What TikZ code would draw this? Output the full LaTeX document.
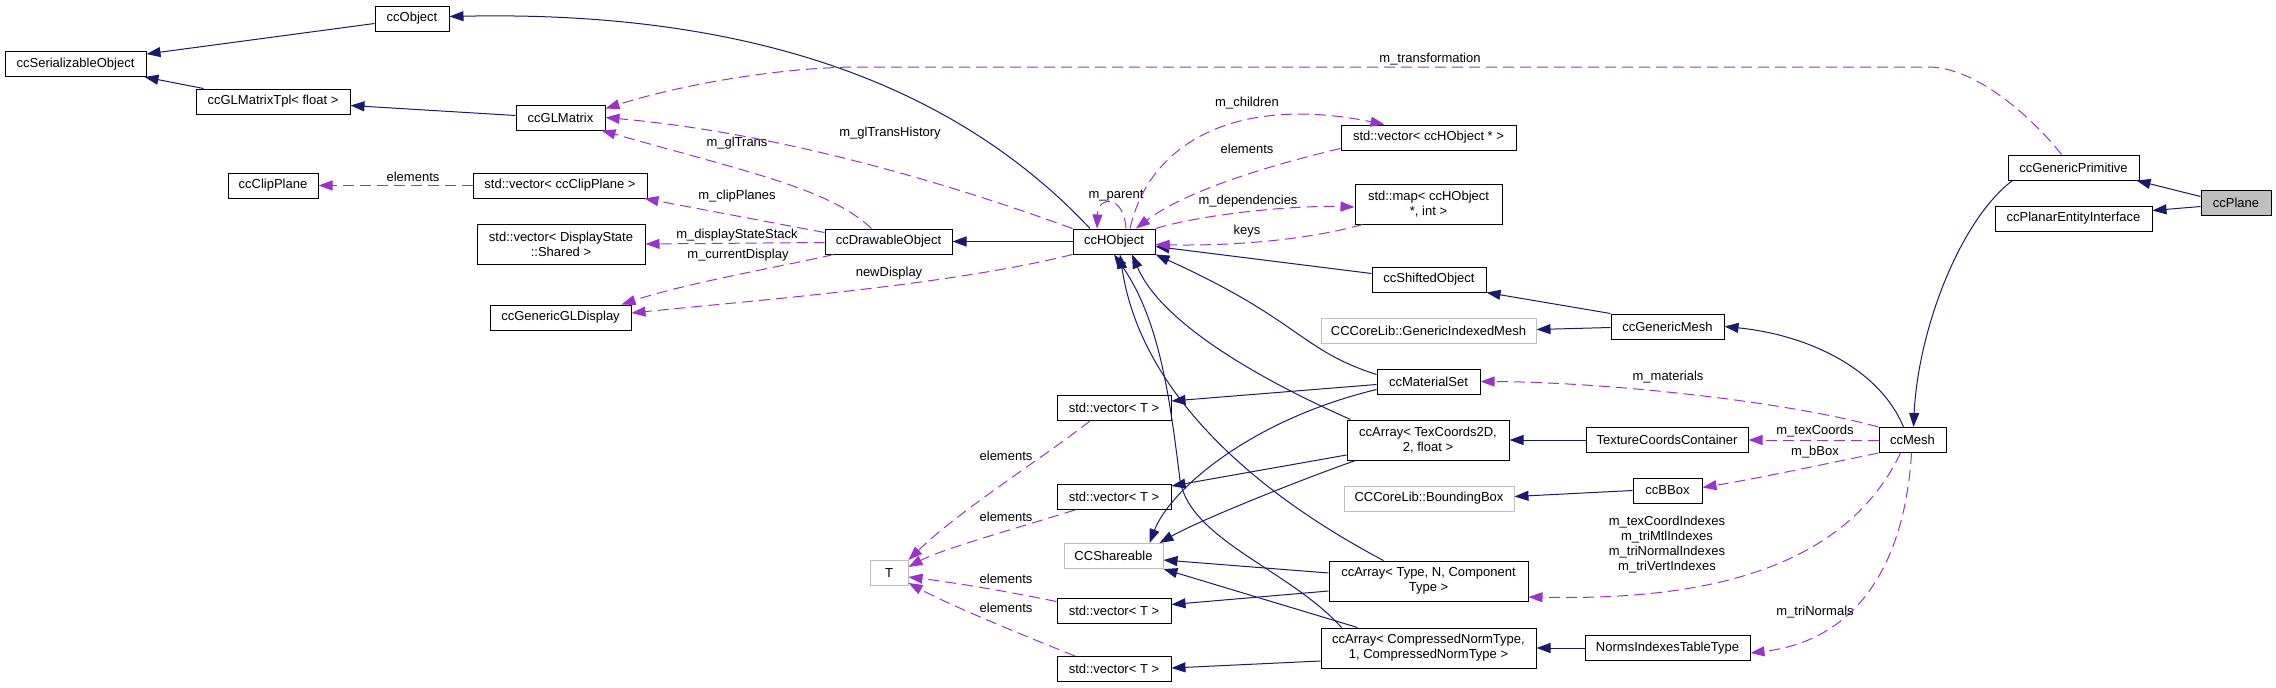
\documentclass[tikz,border=0pt]{standalone}
\usepackage{fontspec}
\setmainfont{Liberation Sans}
\usetikzlibrary{arrows.meta}
\definecolor{edgeblue}{HTML}{191970}
\definecolor{edgepurple}{HTML}{9A32CD}
\definecolor{extgray}{HTML}{BFBFBF}
\begin{document}
\begin{tikzpicture}[x=1pt,y=-1pt,>={Triangle[length=14pt,width=10pt]},line width=1pt]
\tikzstyle{every node}=[font=\fontsize{13}{15}\selectfont,inner sep=0pt]
\tikzstyle{cls}=[draw,rectangle,minimum height=25pt,fill=white,align=center]
\tikzstyle{ext}=[cls,draw=extgray]
\tikzstyle{inh}=[->,draw=edgeblue]
\tikzstyle{mem}=[->,draw=edgepurple,dash pattern=on 11pt off 6pt]
\tikzstyle{lbl}=[align=center]
\useasboundingbox (0,0) rectangle (2276,688);
\node[cls,minimum width=74pt](obj) at (412,18.5) {ccObject};
\node[cls,minimum width=141pt](ser) at (75.5,64) {ccSerializableObject};
\node[cls,minimum width=154pt](tpl) at (273,101.5) {ccGLMatrixTpl< float >};
\node[cls,minimum width=89pt](glm) at (560.5,117.5) {ccGLMatrix};
\node[cls,minimum width=90pt](clip) at (273,185.5) {ccClipPlane};
\node[cls,minimum width=174pt](vclip) at (560,185.5) {std::vector< ccClipPlane >};
\node[cls,minimum width=168pt,minimum height=40pt](vds) at (561,244) {std::vector< DisplayState\\::Shared >};
\node[cls,minimum width=141pt](gld) at (560.5,317.5) {ccGenericGLDisplay};
\node[cls,minimum width=127pt](dobj) at (888.5,241.5) {ccDrawableObject};
\node[cls,minimum width=82pt](hobj) at (1114,241.5) {ccHObject};
\node[cls,minimum width=175pt](vho) at (1428.5,137.5) {std::vector< ccHObject * >};
\node[cls,minimum width=147pt,minimum height=40pt](map) at (1428.5,204) {std::map< ccHObject\\*, int >};
\node[cls,minimum width=114pt](shobj) at (1429,279.5) {ccShiftedObject};
\node[ext,minimum width=215pt](gim) at (1428.5,330.5) {CCCoreLib::GenericIndexedMesh};
\node[cls,minimum width=113pt](gmesh) at (1667.5,326.5) {ccGenericMesh};
\node[cls,minimum width=131pt](gprim) at (2073.5,167.5) {ccGenericPrimitive};
\node[cls,minimum width=70pt,fill=extgray](plane) at (2236,202.5) {ccPlane};
\node[cls,minimum width=157pt](pei) at (2073.5,218.5) {ccPlanarEntityInterface};
\node[cls,minimum width=103pt](mset) at (1428.5,381.5) {ccMaterialSet};
\node[cls,minimum width=114pt](v1) at (1114,408) {std::vector< T >};
\node[cls,minimum width=162pt,minimum height=40pt](atex) at (1428,440) {ccArray< TexCoords2D,\\2, float >};
\node[cls,minimum width=114pt](v2) at (1114,497) {std::vector< T >};
\node[ext,minimum width=170pt](bb) at (1429,498.5) {CCCoreLib::BoundingBox};
\node[ext,minimum width=99pt](shr) at (1113.5,556) {CCShareable};
\node[ext,minimum width=38pt](tt) at (889,573) {T};
\node[cls,minimum width=199pt,minimum height=40pt](atype) at (1428.5,581) {ccArray< Type, N, Component\\Type >};
\node[cls,minimum width=114pt](v3) at (1114,610.5) {std::vector< T >};
\node[cls,minimum width=215pt,minimum height=40pt](anorm) at (1428.5,648) {ccArray< CompressedNormType,\\1, CompressedNormType >};
\node[cls,minimum width=114pt](v4) at (1114,669) {std::vector< T >};
\node[cls,minimum width=162pt](texc) at (1667,440) {TextureCoordsContainer};
\node[cls,minimum width=67pt](mesh) at (1912.5,440) {ccMesh};
\node[cls,minimum width=69pt](bbox) at (1667.5,490.5) {ccBBox};
\node[cls,minimum width=165pt](nitt) at (1667.5,648) {NormsIndexesTableType};
\draw[inh] ([yshift=-5pt]obj.west) -- ([yshift=10pt]ser.east);
\draw[inh] ([xshift=8pt]tpl.north west) -- ([xshift=-2pt]ser.south east);
\draw[inh] ([yshift=2pt]glm.west) -- ([yshift=-4pt]tpl.east);
\draw[inh] ([xshift=-24pt]hobj.north) .. controls (960,90) and (760,10) .. ([yshift=2pt]obj.east);
\draw[inh] (hobj.west) -- (dobj.east);
\draw[inh] ([yshift=6pt]shobj.west) -- ([yshift=-5pt]hobj.east);
\draw[inh] (gmesh.north west) -- (shobj.south east);
\draw[inh] ([yshift=-1pt]gmesh.west) -- ([yshift=1pt]gim.east);
\draw[inh] ([xshift=-9pt]mesh.north) .. controls (1880,370) and (1810,335) .. (gmesh.east);
\draw[inh] ([yshift=6pt]plane.west) -- ([xshift=-3pt]gprim.south east);
\draw[inh] ([yshift=-4pt]plane.west) -- ([yshift=8pt]pei.east);
\draw[inh] ([xshift=5pt]gprim.south west) .. controls (1960,220) and (1918,330) .. ([xshift=1pt]mesh.north);
\draw[inh] ([yshift=7pt]mset.west) .. controls (1300,350) and (1300,320) .. (hobj.south east);
\draw[inh] ([yshift=-3pt]mset.west) -- ([yshift=7pt]v1.east);
\draw[inh] ([yshift=-8pt]mset.west) .. controls (1250,420) and (1170,490) .. ([xshift=36pt]shr.north);
\draw[inh] ([xshift=4pt]atex.north west) .. controls (1250,375) and (1160,320) .. ([xshift=18pt]hobj.south);
\draw[inh] ([yshift=-15pt]atex.west) -- ([yshift=11pt]v2.east);
\draw[inh] ([xshift=9pt]atex.south west) .. controls (1300,480) and (1200,520) .. ([xshift=46pt]shr.north);
\draw[inh] (texc.west) -- (atex.east);
\draw[inh] (bbox.west) -- ([yshift=2pt]bb.east);
\draw[inh] ([xshift=-45pt]atype.north) .. controls (1250,490) and (1140,390) .. ([xshift=6pt]hobj.south);
\draw[inh] ([yshift=8pt]atype.west) -- ([yshift=-4pt]shr.east);
\draw[inh] ([yshift=-10pt]atype.west) -- ([yshift=6pt]v3.east);
\draw[inh] ([xshift=21pt]anorm.north west) .. controls (1290,570) and (1190,540) .. (1180,480) .. controls (1170,400) and (1160,320) .. (hobj.south);
\draw[inh] ([xshift=37pt]anorm.north west) -- (shr.south east);
\draw[inh] ([yshift=-13pt]anorm.west) -- ([yshift=1pt]v4.east);
\draw[inh] (nitt.west) -- (anorm.east);
\draw[mem] (vclip.west) -- (clip.east) node[lbl] at (413,177) {elements};
\draw[mem] ([xshift=-17pt]dobj.north) .. controls (830,190) and (760,175) .. ([xshift=-4pt]glm.south east) node[lbl] at (737,143) {m\_glTrans};
\draw[mem] ([yshift=-4pt]dobj.north west) -- ([xshift=-3pt]vclip.south east) node[lbl] at (737,196) {m\_clipPlanes};
\draw[mem] ([yshift=-1pt]dobj.west) -- (vds.east) node[lbl] at (737,235) {m\_displayStateStack};
\draw[mem] ([xshift=9pt]dobj.south west) .. controls (790,265) and (690,282) .. ([xshift=-10pt]gld.north east) node[lbl] at (738,255) {m\_currentDisplay};
\draw[mem] (hobj.south west) .. controls (950,285) and (760,300) .. ([yshift=4.5pt]gld.east) node[lbl] at (889,273) {newDisplay};
\draw[mem] (hobj.north west) .. controls (980,195) and (800,135) .. (glm.east) node[lbl] at (890,133) {m\_glTransHistory};
\draw[mem] ([xshift=-12pt]gprim.north) .. controls (2030,115) and (1975,67) .. (1928,67) -- (860,67) .. controls (780,67) and (680,85) .. ([yshift=9pt]glm.east) node[lbl] at (1430,59) {m\_transformation};
\draw[mem] ([xshift=16pt]hobj.north) .. controls (1150,140) and (1240,95) .. ([xshift=44pt]vho.north west) node[lbl] at (1247,103) {m\_children};
\draw[mem] ([yshift=2pt]vho.south west) .. controls (1250,170) and (1180,195) .. ([xshift=22pt]hobj.north) node[lbl] at (1247,149) {elements};
\draw[mem] ([xshift=12pt]hobj.north) .. controls (1124,195) and (1098,195) .. ([xshift=-17pt]hobj.north) node[lbl] at (1116,196) {m\_parent};
\draw[mem] (hobj.north east) .. controls (1200,215) and (1290,205) .. ([yshift=-3pt]map.west) node[lbl] at (1248,201) {m\_dependencies};
\draw[mem] ([xshift=8pt]map.south west) .. controls (1300,242) and (1220,246) .. ([yshift=-3pt]hobj.east) node[lbl] at (1247,231) {keys};
\draw[mem] (mesh.north west) .. controls (1780,400) and (1600,382) .. (mset.east) node[lbl] at (1668,377) {m\_materials};
\draw[mem] (mesh.west) -- (texc.east) node[lbl] at (1815,431) {m\_texCoords};
\draw[mem] (mesh.south west) .. controls (1820,465) and (1760,478) .. ([yshift=3pt]bbox.east) node[lbl] at (1815,452) {m\_bBox};
\draw[mem] ([xshift=-12pt]mesh.south) .. controls (1840,580) and (1680,600) .. ([yshift=-16pt]atype.east) node[lbl] at (1667,545) {m\_texCoordIndexes\\m\_triMtlIndexes\\m\_triNormalIndexes\\m\_triVertIndexes};
\draw[mem] ([xshift=-1pt]mesh.south) .. controls (1905,560) and (1860,640) .. ([yshift=-5pt]nitt.east) node[lbl] at (1815,612) {m\_triNormals};
\draw[mem] ([xshift=-24pt]v1.south) .. controls (1040,460) and (960,510) .. (tt.north east) node[lbl] at (1006,456) {elements};
\draw[mem] ([xshift=-39pt]v2.south) .. controls (1010,530) and (940,550) .. ([yshift=6pt]tt.east) node[lbl] at (1006,517) {elements};
\draw[mem] ([yshift=9pt]v3.west) .. controls (1000,590) and (950,582) .. ([yshift=-4pt]tt.east) node[lbl] at (1006,579) {elements};
\draw[mem] ([xshift=-39pt]v4.north) .. controls (1010,630) and (950,605) .. ([yshift=3pt]tt.south east) node[lbl] at (1006,608) {elements};
\end{tikzpicture}
\end{document}
